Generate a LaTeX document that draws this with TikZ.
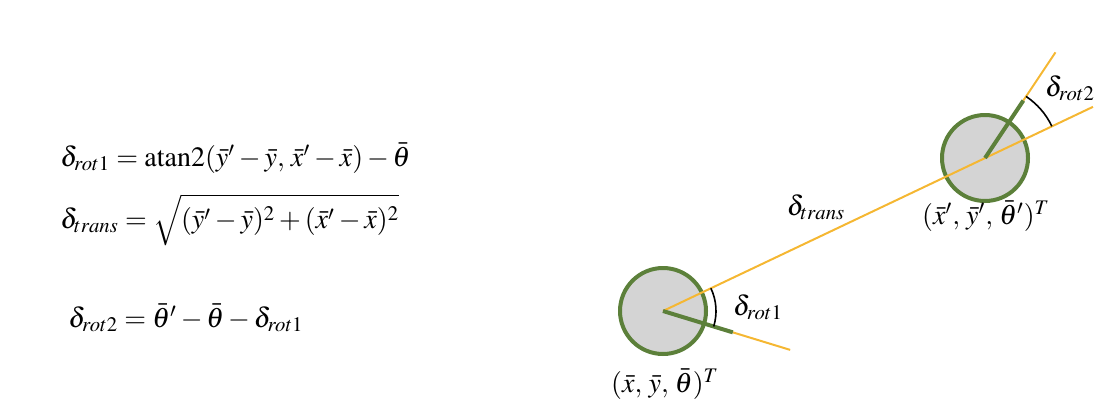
\documentclass[tikz,border=0pt]{standalone}
\usepackage{amsmath,amssymb}
\usepackage{mathptmx}
\usepackage{xcolor}
\usepackage{tikz}
\usetikzlibrary{positioning}
\usetikzlibrary{calc}

\definecolor{robotgreen}{RGB}{92,128,58}
\definecolor{rayorange}{RGB}{245,183,50}
\definecolor{robotfill}{RGB}{212,212,212}

\tikzset{
  robot/.style={circle,draw=robotgreen,fill=robotfill,line width=2pt,minimum size=43pt,inner sep=0pt},
  heading/.style={draw=robotgreen,line width=2pt},
  ray/.style={draw=rayorange,line width=1pt},
  angarc/.style={draw=black,line width=0.8pt},
  lbl/.style={font=\fontsize{14}{16}\selectfont,inner sep=1pt}
}

\begin{document}
\begin{tikzpicture}[x=0.5pt,y=0.5pt]
  \useasboundingbox (0,0) rectangle (1112,414);
  % formulas
  \node[lbl,anchor=west] (f1) at (58,256) {$\delta_{rot1} = \mathrm{atan2}(\bar{y}' - \bar{y},\, \bar{x}' - \bar{x}) - \bar{\theta}$};
  \node[lbl,anchor=west] (f2) at (58,194) {$\delta_{trans} = \sqrt{\vphantom{\big(}(\bar{y}' - \bar{y})^2 + (\bar{x}' - \bar{x})^2}$};
  \node[lbl,anchor=west] (f3) at (66,96) {$\delta_{rot2} = \bar{\theta}' - \bar{\theta} - \delta_{rot1}$};
  % robots
  \coordinate (p1) at (663,103);
  \coordinate (p2) at (985,256);
  \node[robot] (r1) at (p1) {};
  \node[robot] (r2) at (p2) {};
  % rays
  \coordinate (t) at ($(p1)+(25.4:476)$);
  \coordinate (h1) at ($(p1)+(-17:73)$);
  \coordinate (o1) at ($(p1)+(-17:133)$);
  \coordinate (h2) at ($(p2)+(56.3:69)$);
  \coordinate (o2) at ($(p2)+(56.3:127)$);
  \draw[ray] (p1) -- (t);
  \draw[ray] (h1) -- (o1);
  \draw[ray] (h2) -- (o2);
  \draw[heading] (p1) -- (h1);
  \draw[heading] (p2) -- (h2);
  % angles
  \draw[angarc] ($(p1)+(-17:53)$) arc[start angle=-17,end angle=25.4,radius=53];
  \draw[angarc] ($(p2)+(56.3:74)$) arc[start angle=56.3,end angle=25.4,radius=74];
  % labels
  \node[lbl] (a1) at (758,107) {$\delta_{rot1}$};
  \node[lbl] (a2) at (1070,326) {$\delta_{rot2}$};
  \node[lbl] (d) at (816,207) {$\delta_{trans}$};
  \node[lbl] (s1) at (665,30) {$(\bar{x},\, \bar{y},\, \bar{\theta})^T$};
  \node[lbl] (s2) at (986,198) {$(\bar{x}',\, \bar{y}',\, \bar{\theta}')^T$};
\end{tikzpicture}
\end{document}
